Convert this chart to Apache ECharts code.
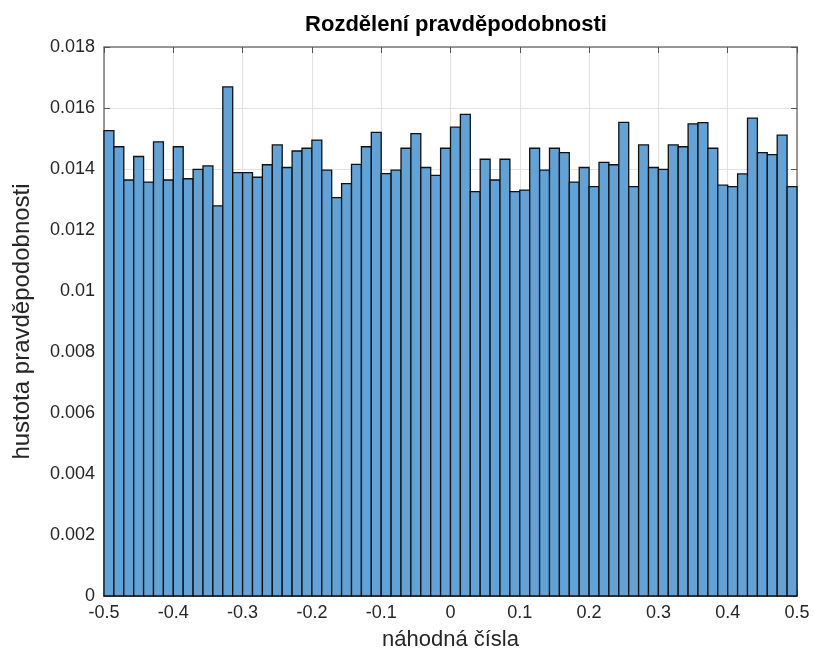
<!DOCTYPE html>
<html>
<head>
<meta charset="utf-8">
<script src="https://cdn.jsdelivr.net/npm/echarts@6/dist/echarts.min.js"></script>
<style>
  html, body { margin: 0; padding: 0; background: #fff; }
  #chart { width: 814px; height: 657px; }
</style>
</head>
<body>
<div id="chart"></div>
<script>
// histogram range and bin heights (probability per bin)
var rangeMin = -0.5;
var rangeMax = 0.5;
var probs = [
  0.01526, 0.01473, 0.01364, 0.01441, 0.01357, 0.01489, 0.01364, 0.01473, 0.01368, 0.01399,
  0.01410, 0.01279, 0.01669, 0.01388, 0.01388, 0.01373, 0.01414, 0.01479, 0.01405, 0.01459,
  0.01468, 0.01495, 0.01396, 0.01306, 0.01352, 0.01415, 0.01473, 0.01520, 0.01385, 0.01396,
  0.01468, 0.01516, 0.01405, 0.01379, 0.01468, 0.01537, 0.01579, 0.01326, 0.01432, 0.01364,
  0.01432, 0.01326, 0.01331, 0.01468, 0.01396, 0.01468, 0.01454, 0.01357, 0.01405, 0.01342,
  0.01422, 0.01414, 0.01553, 0.01342, 0.01479, 0.01405, 0.01399, 0.01479, 0.01473, 0.01548,
  0.01552, 0.01468, 0.01347, 0.01342, 0.01384, 0.01567, 0.01454, 0.01447, 0.01511, 0.01342
];

var binW = (rangeMax - rangeMin) / probs.length;
var bins = probs.map(function (p, i) {
  return [rangeMin + i * binW, rangeMin + (i + 1) * binW, p];
});

var chart = echarts.init(document.getElementById('chart'));
window.onresize = function () {
  chart.resize();
};

var boxLine = { show: true, onZero: false, lineStyle: { color: '#7a7a7a', width: 1.5 } };
var ticks = { show: true, inside: true, length: 6, lineStyle: { color: '#555' } };
var font = 'Liberation Sans, Arial, sans-serif';

var option = {
  animation: false,
  title: {
    text: 'Rozdělení pravděpodobnosti',
    left: 451,
    top: 9,
    textAlign: 'center',
    textStyle: { fontFamily: font, fontSize: 22, fontWeight: 'bold', color: '#000' }
  },
  grid: { left: 104, right: 17, top: 47, bottom: 61 },
  xAxis: [
    {
      type: 'value',
      min: -0.5,
      max: 0.5,
      interval: 0.1,
      name: 'náhodná čísla',
      nameLocation: 'middle',
      nameGap: 33,
      nameTextStyle: { fontFamily: font, fontSize: 22, color: '#262626' },
      axisLine: boxLine,
      axisTick: ticks,
      axisLabel: { fontFamily: font, fontSize: 18, color: '#262626', margin: 8 },
      splitLine: { show: true, lineStyle: { color: '#e2e2e2', width: 1 } }
    },
    {
      type: 'value',
      position: 'top',
      min: -0.5,
      max: 0.5,
      interval: 0.1,
      axisLine: boxLine,
      axisTick: ticks,
      axisLabel: { show: false },
      splitLine: { show: false }
    }
  ],
  yAxis: [
    {
      type: 'value',
      min: 0,
      max: 0.018,
      interval: 0.002,
      name: 'hustota pravděpodobnosti',
      nameLocation: 'middle',
      nameGap: 70,
      nameTextStyle: { fontFamily: font, fontSize: 24, color: '#262626' },
      axisLine: boxLine,
      axisTick: ticks,
      axisLabel: { fontFamily: font, fontSize: 18, color: '#262626', margin: 9 },
      splitLine: { show: true, lineStyle: { color: '#e2e2e2', width: 1 } }
    },
    {
      type: 'value',
      position: 'right',
      min: 0,
      max: 0.018,
      interval: 0.002,
      axisLine: boxLine,
      axisTick: ticks,
      axisLabel: { show: false },
      splitLine: { show: false }
    }
  ],
  series: [
    {
      type: 'custom',
      xAxisIndex: 0,
      yAxisIndex: 0,
      data: bins,
      encode: { x: [0, 1], y: 2 },
      renderItem: function (params, api) {
        var p0 = api.coord([api.value(0), api.value(2)]);
        var p1 = api.coord([api.value(1), 0]);
        return {
          type: 'rect',
          shape: { x: p0[0], y: p0[1], width: p1[0] - p0[0], height: p1[1] - p0[1] },
          style: { fill: '#63a2d6', stroke: '#111', lineWidth: 1.3 }
        };
      }
    }
  ]
};
chart.setOption(option);
</script>
</body>
</html>
